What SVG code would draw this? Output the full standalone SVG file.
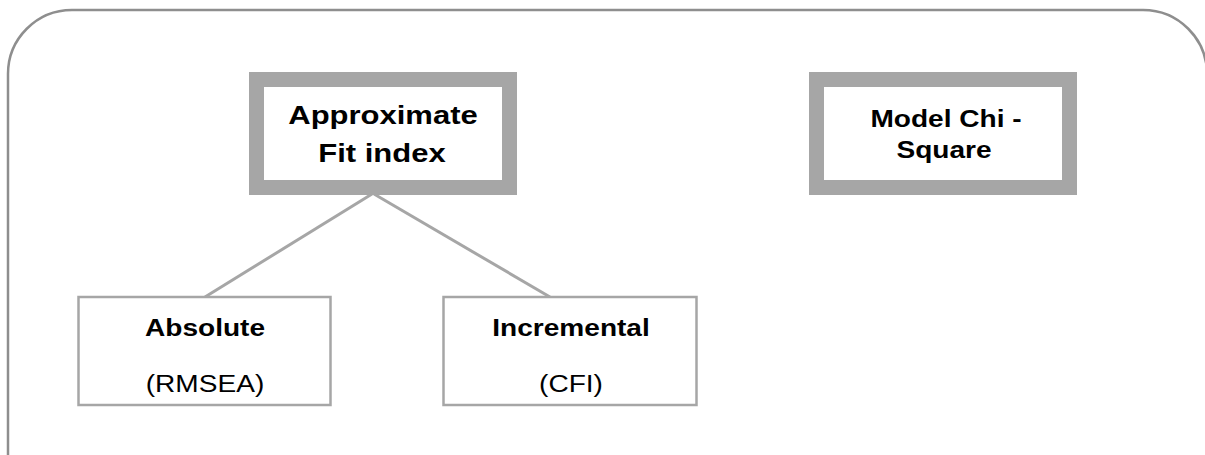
<svg xmlns="http://www.w3.org/2000/svg" width="1205" height="455" viewBox="0 0 1205 455">
  <style>
    .frame { fill: none; stroke: #8e8e8e; stroke-width: 2.5; }
    .major { fill: #ffffff; stroke: #a6a6a6; stroke-width: 15; }
    .minor { fill: #ffffff; stroke: #a6a6a6; stroke-width: 2.5; }
    .link { stroke: #a6a6a6; stroke-width: 3; fill: none; }
    .t { font-family: "Liberation Sans", Arial, sans-serif; fill: #000000; text-anchor: middle; }
    .big { font-size: 26.5px; font-weight: bold; }
    .mid { font-size: 24px; font-weight: bold; }
    .reg { font-size: 24px; }
  </style>

  <!-- rounded outer frame, running off the right and bottom edges -->
  <path class="frame" d="M 8 455 V 74 A 64 64 0 0 1 72 10 H 1143 A 64 64 0 0 1 1207 74 V 455"/>

  <g id="connectors">
    <line class="link" x1="372" y1="194" x2="205" y2="297"/>
    <line class="link" x1="374" y1="194" x2="550" y2="297"/>
  </g>

  <g id="approx-fit">
    <rect class="major" x="256.5" y="79.5" width="253" height="108"/>
    <text class="t big" transform="translate(383 124) scale(1.17 1)">Approximate</text>
    <text class="t big" transform="translate(382 162) scale(1.17 1)">Fit index</text>
  </g>

  <g id="chi-square">
    <rect class="major" x="816.5" y="79.5" width="253" height="108"/>
    <text class="t mid" transform="translate(946 127) scale(1.17 1)">Model Chi -</text>
    <text class="t mid" transform="translate(944 158) scale(1.17 1)">Square</text>
  </g>

  <g id="absolute">
    <rect class="minor" x="78.5" y="297" width="252" height="108"/>
    <text class="t mid" transform="translate(205 336) scale(1.17 1)">Absolute</text>
    <text class="t reg" transform="translate(205 392) scale(1.17 1)">(RMSEA)</text>
  </g>

  <g id="incremental">
    <rect class="minor" x="443.5" y="297" width="253" height="108"/>
    <text class="t mid" transform="translate(571 336) scale(1.17 1)">Incremental</text>
    <text class="t reg" transform="translate(571 392) scale(1.17 1)">(CFI)</text>
  </g>
</svg>
